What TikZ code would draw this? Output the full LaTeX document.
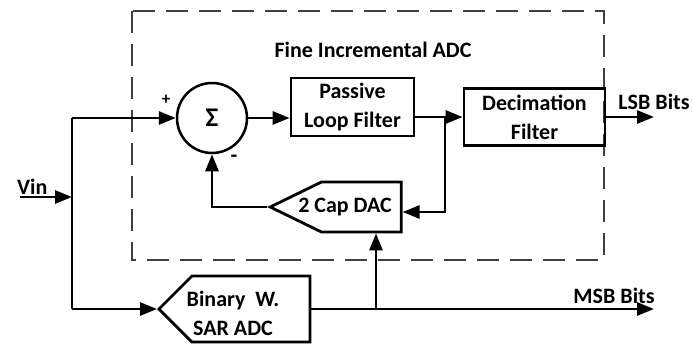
\documentclass[tikz,border=0pt]{standalone}
\usepackage{fontspec}
\setmainfont{Carlito}
\usetikzlibrary{arrows.meta, positioning, shapes.symbols}

\begin{document}
\begin{tikzpicture}[
  x=1pt, y=-1pt,
  font=\fontsize{22}{29}\selectfont\bfseries,
  box/.style={draw, line width=2.8pt, align=center, inner sep=0pt},
  blk/.style={box, rectangle},
  amp/.style={box, signal, signal to=west},
  flow/.style={-{Triangle[length=17pt, width=13pt]}, line width=2.8pt},
  wire/.style={line width=2.8pt},
  lbl/.style={inner sep=0pt, align=center},
]
\useasboundingbox (0,0) rectangle (693,343);

\draw[dash pattern=on 22pt off 11pt, line width=1.4pt, black!75] (132,11) rectangle (604,260);
\node[lbl] (title) at (373,50) {Fine Incremental ADC};

\node[box, circle, minimum size=70pt, line width=2.5pt, font=\fontsize{27}{27}\selectfont\bfseries] (sum) at (212,118) {Σ};
\node[blk, minimum width=123pt, minimum height=58pt] (loop) at (352.5,107) {Passive\\Loop Filter};
\node[blk, minimum width=141pt, minimum height=57pt] (dec) at (534.5,117) {Decimation\\Filter};
\node[amp, anchor=west, minimum width=131pt, minimum height=50pt, signal pointer angle=52] (dac) at (267,207) {};
\node[amp, anchor=west, minimum width=151pt, minimum height=66pt, signal pointer angle=90] (sar) at (157,309) {};
\node[lbl] (dactxt) at (345,207) {2 Cap DAC};
\node[lbl] (sartxt) at (233,313) {Binary~~W.\\SAR ADC};

\coordinate (vin) at (20,197);
\coordinate (jn) at (72,197);
\coordinate (tp) at (72,118);
\coordinate (bt) at (72,309);
\coordinate (br) at (445,117);
\coordinate (brd) at (445,212);
\coordinate (tap) at (376,309);
\coordinate (lsb) at (654,117);
\coordinate (msb) at (654,309);

\node[lbl, above right=2pt and -3pt of vin] (vintxt) {Vin};
\node[lbl] (lsbtxt) at (654,102) {LSB Bits};
\node[lbl] (msbtxt) at (614,296) {MSB Bits};
\node[lbl, font=\fontsize{17}{17}\selectfont\bfseries] (plus) at (166,100) {+};
\node[lbl, font=\fontsize{22}{22}\selectfont\bfseries] (minus) at (234,159) {-};

\draw[flow] (vin) -- (jn);
\draw[wire] (tp) -- (bt);
\draw[flow] (tp) -- (sum.west);
\draw[flow] (bt) -- (sar.west);
\draw[flow] (sum.east) -- (sum.east -| loop.west);
\draw[flow] (dec.west -| loop.east) -- (dec.west);
\draw[flow] (dec.east) -- (lsb);
\draw[flow] (br) -- (brd) -- (brd -| dac.east);
\draw[flow] (dac.west) -| (sum.south);
\draw[flow] (sar.east) -- (msb);
\draw[flow] (tap) -- (tap |- dac.south);
\end{tikzpicture}
\end{document}
